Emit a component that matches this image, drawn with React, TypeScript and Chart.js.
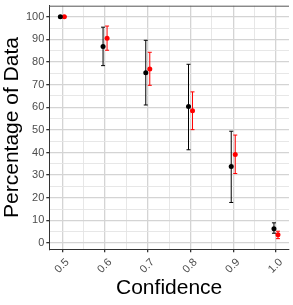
import React, { useEffect, useRef } from "react";
import { Chart, registerables } from "chart.js";

Chart.register(...registerables);

const confidence = [0.5, 0.6, 0.7, 0.8, 0.9, 1.0];
const seriesAMean = [100, 86.9, 75.3, 60.3, 33.8, 6.3];
const seriesALow = [100, 78.4, 61.0, 41.2, 17.9, 4.3];
const seriesAHigh = [100, 95.4, 89.6, 79.0, 49.4, 8.9];
const seriesBMean = [100, 90.5, 76.9, 58.5, 39.1, 3.6];
const seriesBLow = [100, 85.2, 69.7, 50.1, 30.7, 1.9];
const seriesBHigh = [100, 95.9, 84.3, 66.8, 47.7, 5.2];

const xMajorTicks = [0.5, 0.6, 0.7, 0.8, 0.9, 1.0];
const xMinorTicks = [0.55, 0.65, 0.75, 0.85, 0.95];
const yMajorTicks = [0, 10, 20, 30, 40, 50, 60, 70, 80, 90, 100];
const yMinorTicks = [5, 15, 25, 35, 45, 55, 65, 75, 85, 95];

const DODGE = 0.0047;
const FONT = "'Liberation Sans', Arial, Helvetica, sans-serif";

const isMajor = (list: number[], v: number) => list.some((m) => Math.abs(m - v) < 1e-6);

const errorBars = {
  id: "errorBars",
  beforeDatasetsDraw(chart: any) {
    const { ctx, scales } = chart;
    const xs = scales.x;
    const ys = scales.y;
    chart.data.datasets.forEach((ds: any) => {
      ctx.save();
      ctx.strokeStyle = ds.borderColor;
      ctx.lineWidth = 1;
      ds.data.forEach((p: any, i: number) => {
        const x = xs.getPixelForValue(p.x);
        const yl = ys.getPixelForValue(ds.low[i]);
        const yh = ys.getPixelForValue(ds.high[i]);
        ctx.beginPath();
        ctx.moveTo(x, yl);
        ctx.lineTo(x, yh);
        ctx.moveTo(x - 2, yl);
        ctx.lineTo(x + 2, yl);
        ctx.moveTo(x - 2, yh);
        ctx.lineTo(x + 2, yh);
        ctx.stroke();
      });
      ctx.restore();
    });
  },
  afterDraw(chart: any) {
    const { ctx, chartArea } = chart;
    ctx.save();
    ctx.strokeStyle = "#555555";
    ctx.lineWidth = 1;
    ctx.beginPath();
    ctx.moveTo(chartArea.left, chartArea.top + 0.5);
    ctx.lineTo(chartArea.right, chartArea.top + 0.5);
    ctx.stroke();
    ctx.restore();
  },
};

export default function App() {
  const ref = useRef<HTMLCanvasElement>(null);
  useEffect(() => {
    document.body.style.margin = "0";
    const canvas = ref.current!;
    const chart = new Chart(canvas, {
      type: "scatter",
      data: {
        datasets: [
          {
            label: "A",
            data: confidence.map((c, i) => ({ x: c - DODGE, y: seriesAMean[i] })),
            low: seriesALow,
            high: seriesAHigh,
            backgroundColor: "#000000",
            borderColor: "#000000",
            pointRadius: 2.5,
            pointBorderWidth: 0,
          } as any,
          {
            label: "B",
            data: confidence.map((c, i) => ({ x: c + DODGE, y: seriesBMean[i] })),
            low: seriesBLow,
            high: seriesBHigh,
            backgroundColor: "#FF0000",
            borderColor: "#FF0000",
            pointRadius: 2.5,
            pointBorderWidth: 0,
          } as any,
        ],
      },
      options: {
        responsive: false,
        animation: false,
        devicePixelRatio: 1,
        layout: { padding: { top: 5.7, right: 1.5, left: 0, bottom: 0 } },
        plugins: { legend: { display: false }, tooltip: { enabled: false } },
        scales: {
          x: {
            type: "linear",
            min: 0.4695,
            max: 1.0305,
            afterBuildTicks: (axis: any) => {
              axis.ticks = [...xMajorTicks, ...xMinorTicks].sort((a, b) => a - b).map((v) => ({ value: v }));
            },
            afterFit: (axis: any) => {
              axis.height = 55.7;
              axis.paddingLeft = 0;
              axis.paddingRight = 0;
            },
            grid: {
              color: (c: any) => (isMajor(xMajorTicks, c.tick?.value) ? "#D4D4D4" : "#E4E4E4"),
              lineWidth: (c: any) => (isMajor(xMajorTicks, c.tick?.value) ? 1.3 : 0.9),
              tickColor: (c: any) => (isMajor(xMajorTicks, c.tick?.value) ? "#333333" : "rgba(0,0,0,0)"),
              tickLength: 3,
              drawTicks: true,
            },
            border: { color: "#333333", width: 1 },
            ticks: {
              autoSkip: false,
              minRotation: 45,
              maxRotation: 45,
              padding: 3.5,
              labelOffset: 5,
              color: "#4D4D4D",
              font: { family: FONT, size: 11 },
              callback: (v: any) => (isMajor(xMajorTicks, Number(v)) ? Number(v).toFixed(1) : ""),
            },
            title: {
              display: true,
              text: "Confidence",
              color: "#000000",
              font: { family: FONT, size: 21 },
              padding: { top: 0, bottom: 4 },
            },
          },
          y: {
            type: "linear",
            min: -2.8,
            max: 104.9,
            afterBuildTicks: (axis: any) => {
              axis.ticks = [...yMajorTicks, ...yMinorTicks].sort((a, b) => a - b).map((v) => ({ value: v }));
            },
            afterFit: (axis: any) => {
              axis.width = 49.3;
              axis.paddingTop = 0;
              axis.paddingBottom = 0;
            },
            grid: {
              color: (c: any) => (isMajor(yMajorTicks, c.tick?.value) ? "#D4D4D4" : "#E4E4E4"),
              lineWidth: (c: any) => (isMajor(yMajorTicks, c.tick?.value) ? 1.3 : 0.9),
              tickColor: (c: any) => (isMajor(yMajorTicks, c.tick?.value) ? "#333333" : "rgba(0,0,0,0)"),
              tickLength: 3,
              drawTicks: true,
            },
            border: { color: "#333333", width: 1 },
            ticks: {
              autoSkip: false,
              padding: 2,
              color: "#4D4D4D",
              font: { family: FONT, size: 11 },
              callback: (v: any) => (isMajor(yMajorTicks, Number(v)) ? String(v) : ""),
            },
            title: {
              display: true,
              text: "Percentage of Data",
              color: "#000000",
              font: { family: FONT, size: 21 },
              padding: { top: 0, bottom: 0 },
            },
          },
        },
      },
      plugins: [errorBars],
    } as any);
    return () => chart.destroy();
  }, []);
  return (
    <div style={{ width: 293, height: 305 }}>
      <canvas ref={ref} width={293} height={305} />
    </div>
  );
}
